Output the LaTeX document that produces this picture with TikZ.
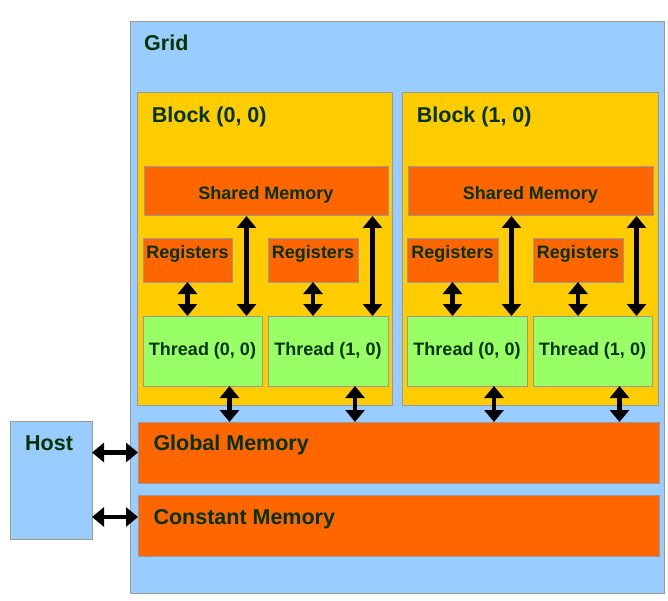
\documentclass[tikz,border=0pt]{standalone}
\usepackage{fontspec}
\setmainfont{Liberation Sans}
\usetikzlibrary{arrows.meta,calc}
\definecolor{gridblue}{HTML}{99CCFF}
\definecolor{blockyellow}{HTML}{FFCC00}
\definecolor{memorange}{HTML}{FF6600}
\definecolor{threadgreen}{HTML}{99FF66}
\definecolor{edgegray}{HTML}{999999}
\definecolor{txtgreen}{HTML}{003300}
\tikzset{
  box/.style={draw=edgegray, line width=1pt, inner sep=0pt, outer sep=0pt},
  gridbox/.style={box, fill=gridblue},
  blockbox/.style={box, fill=blockyellow},
  membox/.style={box, fill=memorange},
  threadbox/.style={box, fill=threadgreen},
  bigtxt/.style={text=txtgreen, font=\fontsize{21.5}{24}\selectfont\bfseries, inner sep=0pt, anchor=base west},
  smalltxt/.style={text=txtgreen, font=\fontsize{18}{20}\selectfont\bfseries, inner sep=0pt, anchor=base},
  dbl/.style={line width=4.2pt, {Triangle[width=19pt,length=12pt]}-{Triangle[width=19pt,length=12pt]}},
}
\begin{document}
\begin{tikzpicture}[x=1pt,y=-1pt]
\useasboundingbox (0,0) rectangle (668,601);
% Grid
\node[gridbox, minimum width=534pt, minimum height=571pt] (grid) at (397,307.5) {};
\node[bigtxt] (gridlbl) at ([xshift=14pt,yshift=-29pt]grid.north west) {Grid};
% Blocks
\node[blockbox, minimum width=255pt, minimum height=312pt] (b0) at (264.5,249) {};
\node[blockbox, minimum width=256pt, minimum height=312pt] (b1) at (530,249) {};
\node[bigtxt] (b0lbl) at ([xshift=14.7pt,yshift=-30pt]b0.north west) {Block (0, 0)};
\node[bigtxt] (b1lbl) at ([xshift=14.7pt,yshift=-30pt]b1.north west) {Block (1, 0)};
% Shared memory
\node[membox, minimum width=244pt, minimum height=49pt] (sm0) at (266,191.5) {};
\node[membox, minimum width=245pt, minimum height=49pt] (sm1) at (530.5,191.5) {};
\node[smalltxt] (sm0lbl) at ([yshift=-8.5pt]sm0.center) {Shared Memory};
\node[smalltxt] (sm1lbl) at ([yshift=-8.5pt]sm1.center) {Shared Memory};
% Registers
\node[membox, minimum width=89pt, minimum height=43pt] (r00) at (187.5,260.5) {};
\node[membox, minimum width=90pt, minimum height=43pt] (r01) at (313,260.5) {};
\node[membox, minimum width=91pt, minimum height=43pt] (r10) at (452.5,260.5) {};
\node[membox, minimum width=90pt, minimum height=43pt] (r11) at (578,260.5) {};
\foreach \r in {r00,r01,r10,r11}{
  \node[smalltxt] (\r lbl) at ([yshift=-19.3pt]\r.north) {Registers};
}
% Threads
\node[threadbox, minimum width=119pt, minimum height=70pt] (t00) at (202.5,351) {};
\node[threadbox, minimum width=120pt, minimum height=70pt] (t01) at (328,351) {};
\node[threadbox, minimum width=120pt, minimum height=70pt] (t10) at (467,351) {};
\node[threadbox, minimum width=119pt, minimum height=70pt] (t11) at (592.5,351) {};
\node[smalltxt] (t00lbl) at ([yshift=-4pt]t00.center) {Thread (0, 0)};
\node[smalltxt] (t01lbl) at ([yshift=-4pt]t01.center) {Thread (1, 0)};
\node[smalltxt] (t10lbl) at ([yshift=-4pt]t10.center) {Thread (0, 0)};
\node[smalltxt] (t11lbl) at ([yshift=-4pt]t11.center) {Thread (1, 0)};
% Global / constant memory
\node[membox, minimum width=521pt, minimum height=61pt] (gm) at (398.5,452.5) {};
\node[membox, minimum width=521pt, minimum height=61pt] (cm) at (398.5,525.5) {};
\node[bigtxt] (gmlbl) at ([xshift=15.3pt,yshift=-28.7pt]gm.north west) {Global Memory};
\node[bigtxt] (cmlbl) at ([xshift=15.3pt,yshift=-29pt]cm.north west) {Constant Memory};
% Host
\node[gridbox, minimum width=82pt, minimum height=118pt] (host) at (51,480) {};
\node[bigtxt] (hostlbl) at ([xshift=15pt,yshift=-29pt]host.north west) {Host};
% Register <-> thread
\foreach \r/\t in {r00/t00,r01/t01,r10/t10,r11/t11}{
  \draw[dbl] (\r.south) -- (\r.south |- \t.north);
}
% Shared <-> thread
\foreach \s/\t in {sm0/t00,sm0/t01,sm1/t10,sm1/t11}{
  \coordinate (\t top) at ([xshift=-15.5pt]\t.north east);
  \draw[dbl] (\t top |- \s.south) -- (\t top);
}
% Thread <-> global
\foreach \t in {t00,t01,t10,t11}{
  \coordinate (\t bot) at ([xshift=27pt]\t.south);
  \draw[dbl] (\t bot) -- (\t bot |- gm.north);
}
% Host <-> memories
\coordinate (cmin) at ([yshift=8.5pt]cm.west);
\draw[dbl] (host.east |- gm.west) -- (gm.west);
\draw[dbl] (host.east |- cmin) -- (cmin);
\end{tikzpicture}
\end{document}
